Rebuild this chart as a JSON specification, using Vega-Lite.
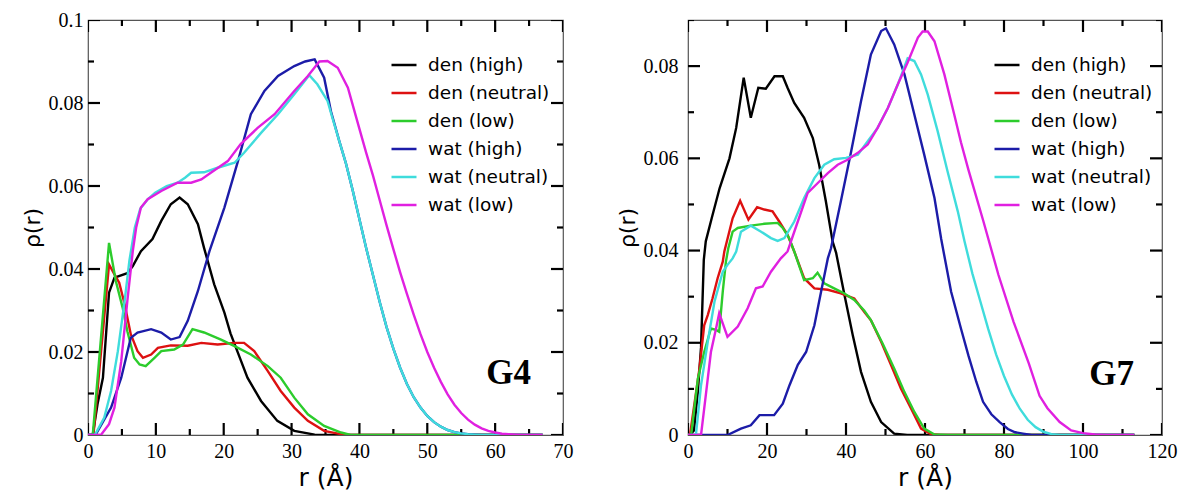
{
  "$schema": "https://vega.github.io/schema/vega-lite/v6.json",
  "background": "white",
  "padding": {"left": 20, "top": 9, "right": 5, "bottom": 2},
  "config": {
    "view": {"stroke": "#555555", "strokeWidth": 1.2},
    "axis": {"grid": false, "ticks": false, "domain": false, "labelColor": "#000000", "titleColor": "#000000"}
  },
  "datasets": {
    "xt4": [
      {"v": 0, "kind": "major"}, {"v": 5, "kind": "minor"}, {"v": 10, "kind": "major"}, {"v": 15, "kind": "minor"},
      {"v": 20, "kind": "major"}, {"v": 25, "kind": "minor"}, {"v": 30, "kind": "major"}, {"v": 35, "kind": "minor"},
      {"v": 40, "kind": "major"}, {"v": 45, "kind": "minor"}, {"v": 50, "kind": "major"}, {"v": 55, "kind": "minor"},
      {"v": 60, "kind": "major"}, {"v": 65, "kind": "minor"}, {"v": 70, "kind": "major"}
    ],
    "yt4": [
      {"v": 0, "kind": "major"}, {"v": 0.01, "kind": "minor"}, {"v": 0.02, "kind": "major"}, {"v": 0.03, "kind": "minor"},
      {"v": 0.04, "kind": "major"}, {"v": 0.05, "kind": "minor"}, {"v": 0.06, "kind": "major"}, {"v": 0.07, "kind": "minor"},
      {"v": 0.08, "kind": "major"}, {"v": 0.09, "kind": "minor"}, {"v": 0.1, "kind": "major"}
    ],
    "xt7": [
      {"v": 0, "kind": "major"}, {"v": 10, "kind": "minor"}, {"v": 20, "kind": "major"}, {"v": 30, "kind": "minor"},
      {"v": 40, "kind": "major"}, {"v": 50, "kind": "minor"}, {"v": 60, "kind": "major"}, {"v": 70, "kind": "minor"},
      {"v": 80, "kind": "major"}, {"v": 90, "kind": "minor"}, {"v": 100, "kind": "major"}, {"v": 110, "kind": "minor"},
      {"v": 120, "kind": "major"}
    ],
    "yt7": [
      {"v": 0, "kind": "major"}, {"v": 0.01, "kind": "minor"}, {"v": 0.02, "kind": "major"}, {"v": 0.03, "kind": "minor"},
      {"v": 0.04, "kind": "major"}, {"v": 0.05, "kind": "minor"}, {"v": 0.06, "kind": "major"}, {"v": 0.07, "kind": "minor"},
      {"v": 0.08, "kind": "major"}, {"v": 0.09, "kind": "minor"}
    ],
    "g4": [
      {"series": "den (high)", "r": 0, "rho": 0},
      {"series": "den (high)", "r": 0.7, "rho": 0},
      {"series": "den (high)", "r": 1.4, "rho": 0.0074},
      {"series": "den (high)", "r": 2.2, "rho": 0.0138},
      {"series": "den (high)", "r": 3.1, "rho": 0.0343},
      {"series": "den (high)", "r": 3.9, "rho": 0.0379},
      {"series": "den (high)", "r": 5.8, "rho": 0.039},
      {"series": "den (high)", "r": 6.6, "rho": 0.0407},
      {"series": "den (high)", "r": 7.8, "rho": 0.0443},
      {"series": "den (high)", "r": 9.5, "rho": 0.0472},
      {"series": "den (high)", "r": 10.8, "rho": 0.0516},
      {"series": "den (high)", "r": 12.2, "rho": 0.0556},
      {"series": "den (high)", "r": 13.5, "rho": 0.0572},
      {"series": "den (high)", "r": 14.7, "rho": 0.0556},
      {"series": "den (high)", "r": 16.2, "rho": 0.0508},
      {"series": "den (high)", "r": 17.1, "rho": 0.0451},
      {"series": "den (high)", "r": 18.6, "rho": 0.0363},
      {"series": "den (high)", "r": 20.1, "rho": 0.0295},
      {"series": "den (high)", "r": 21, "rho": 0.0245},
      {"series": "den (high)", "r": 22, "rho": 0.0202},
      {"series": "den (high)", "r": 23.5, "rho": 0.0138},
      {"series": "den (high)", "r": 25.5, "rho": 0.0082},
      {"series": "den (high)", "r": 27.9, "rho": 0.0034},
      {"series": "den (high)", "r": 30.4, "rho": 0.001},
      {"series": "den (high)", "r": 33.4, "rho": 0.0001},
      {"series": "den (high)", "r": 35, "rho": 0},
      {"series": "den (high)", "r": 67, "rho": 0},
      {"series": "den (neutral)", "r": 0, "rho": 0},
      {"series": "den (neutral)", "r": 0.8, "rho": 0},
      {"series": "den (neutral)", "r": 3.1, "rho": 0.0411},
      {"series": "den (neutral)", "r": 3.9, "rho": 0.0387},
      {"series": "den (neutral)", "r": 4.6, "rho": 0.0367},
      {"series": "den (neutral)", "r": 5.4, "rho": 0.0315},
      {"series": "den (neutral)", "r": 6.3, "rho": 0.0243},
      {"series": "den (neutral)", "r": 7.3, "rho": 0.0202},
      {"series": "den (neutral)", "r": 8.1, "rho": 0.0186},
      {"series": "den (neutral)", "r": 9.3, "rho": 0.0194},
      {"series": "den (neutral)", "r": 10.3, "rho": 0.021},
      {"series": "den (neutral)", "r": 12.2, "rho": 0.0216},
      {"series": "den (neutral)", "r": 14.7, "rho": 0.0215},
      {"series": "den (neutral)", "r": 16.7, "rho": 0.0222},
      {"series": "den (neutral)", "r": 19.1, "rho": 0.0218},
      {"series": "den (neutral)", "r": 21.6, "rho": 0.0222},
      {"series": "den (neutral)", "r": 23, "rho": 0.0222},
      {"series": "den (neutral)", "r": 24.5, "rho": 0.0202},
      {"series": "den (neutral)", "r": 26.5, "rho": 0.0154},
      {"series": "den (neutral)", "r": 28.4, "rho": 0.0106},
      {"series": "den (neutral)", "r": 30.4, "rho": 0.0066},
      {"series": "den (neutral)", "r": 32.4, "rho": 0.0034},
      {"series": "den (neutral)", "r": 34.8, "rho": 0.001},
      {"series": "den (neutral)", "r": 37.6, "rho": 0.0001},
      {"series": "den (neutral)", "r": 40, "rho": 0},
      {"series": "den (neutral)", "r": 67, "rho": 0},
      {"series": "den (low)", "r": 0, "rho": 0},
      {"series": "den (low)", "r": 0.7, "rho": 0},
      {"series": "den (low)", "r": 3.1, "rho": 0.0463},
      {"series": "den (low)", "r": 4.1, "rho": 0.0371},
      {"series": "den (low)", "r": 5.1, "rho": 0.0307},
      {"series": "den (low)", "r": 5.8, "rho": 0.025},
      {"series": "den (low)", "r": 6.8, "rho": 0.0186},
      {"series": "den (low)", "r": 7.6, "rho": 0.017},
      {"series": "den (low)", "r": 8.5, "rho": 0.0166},
      {"series": "den (low)", "r": 9.8, "rho": 0.0186},
      {"series": "den (low)", "r": 10.8, "rho": 0.0202},
      {"series": "den (low)", "r": 12.7, "rho": 0.0206},
      {"series": "den (low)", "r": 14, "rho": 0.0218},
      {"series": "den (low)", "r": 15.4, "rho": 0.0255},
      {"series": "den (low)", "r": 17.1, "rho": 0.0247},
      {"series": "den (low)", "r": 19.6, "rho": 0.023},
      {"series": "den (low)", "r": 21.6, "rho": 0.0214},
      {"series": "den (low)", "r": 24, "rho": 0.0194},
      {"series": "den (low)", "r": 26.5, "rho": 0.0166},
      {"series": "den (low)", "r": 28.4, "rho": 0.0138},
      {"series": "den (low)", "r": 30.4, "rho": 0.009},
      {"series": "den (low)", "r": 32.4, "rho": 0.005},
      {"series": "den (low)", "r": 34.8, "rho": 0.0022},
      {"series": "den (low)", "r": 37.3, "rho": 0.0006},
      {"series": "den (low)", "r": 38.7, "rho": 0},
      {"series": "den (low)", "r": 67, "rho": 0},
      {"series": "wat (high)", "r": 0, "rho": 0},
      {"series": "wat (high)", "r": 1.1, "rho": 0},
      {"series": "wat (high)", "r": 3.4, "rho": 0.0066},
      {"series": "wat (high)", "r": 4.9, "rho": 0.0138},
      {"series": "wat (high)", "r": 6.3, "rho": 0.0234},
      {"series": "wat (high)", "r": 7.3, "rho": 0.0247},
      {"series": "wat (high)", "r": 9.3, "rho": 0.0255},
      {"series": "wat (high)", "r": 10.8, "rho": 0.0247},
      {"series": "wat (high)", "r": 12.2, "rho": 0.023},
      {"series": "wat (high)", "r": 13.5, "rho": 0.0236},
      {"series": "wat (high)", "r": 14.7, "rho": 0.0275},
      {"series": "wat (high)", "r": 16.2, "rho": 0.0347},
      {"series": "wat (high)", "r": 17.9, "rho": 0.0443},
      {"series": "wat (high)", "r": 20.1, "rho": 0.0548},
      {"series": "wat (high)", "r": 22.1, "rho": 0.066},
      {"series": "wat (high)", "r": 24, "rho": 0.0773},
      {"series": "wat (high)", "r": 26, "rho": 0.0829},
      {"series": "wat (high)", "r": 28, "rho": 0.0865},
      {"series": "wat (high)", "r": 30.4, "rho": 0.0889},
      {"series": "wat (high)", "r": 32, "rho": 0.09},
      {"series": "wat (high)", "r": 33.4, "rho": 0.0905},
      {"series": "wat (high)", "r": 34.8, "rho": 0.0861},
      {"series": "wat (high)", "r": 35.8, "rho": 0.078},
      {"series": "wat (high)", "r": 37, "rho": 0.071},
      {"series": "wat (high)", "r": 38, "rho": 0.0655},
      {"series": "wat (high)", "r": 39, "rho": 0.059},
      {"series": "wat (high)", "r": 40, "rho": 0.052},
      {"series": "wat (high)", "r": 41, "rho": 0.045},
      {"series": "wat (high)", "r": 42, "rho": 0.0385},
      {"series": "wat (high)", "r": 43, "rho": 0.032},
      {"series": "wat (high)", "r": 44, "rho": 0.026},
      {"series": "wat (high)", "r": 45, "rho": 0.0208},
      {"series": "wat (high)", "r": 46, "rho": 0.0162},
      {"series": "wat (high)", "r": 47, "rho": 0.0123},
      {"series": "wat (high)", "r": 48, "rho": 0.0091},
      {"series": "wat (high)", "r": 49, "rho": 0.0066},
      {"series": "wat (high)", "r": 50, "rho": 0.0046},
      {"series": "wat (high)", "r": 51, "rho": 0.0031},
      {"series": "wat (high)", "r": 52, "rho": 0.002},
      {"series": "wat (high)", "r": 53, "rho": 0.0012},
      {"series": "wat (high)", "r": 54, "rho": 0.0007},
      {"series": "wat (high)", "r": 55, "rho": 0.0004},
      {"series": "wat (high)", "r": 56, "rho": 0.0002},
      {"series": "wat (high)", "r": 57, "rho": 0.0001},
      {"series": "wat (high)", "r": 58, "rho": 0},
      {"series": "wat (high)", "r": 67, "rho": 0},
      {"series": "wat (neutral)", "r": 0, "rho": 0},
      {"series": "wat (neutral)", "r": 1, "rho": 0},
      {"series": "wat (neutral)", "r": 2.4, "rho": 0.0042},
      {"series": "wat (neutral)", "r": 3.4, "rho": 0.0106},
      {"series": "wat (neutral)", "r": 4.4, "rho": 0.0202},
      {"series": "wat (neutral)", "r": 5.4, "rho": 0.0323},
      {"series": "wat (neutral)", "r": 6.1, "rho": 0.042},
      {"series": "wat (neutral)", "r": 6.9, "rho": 0.05},
      {"series": "wat (neutral)", "r": 7.7, "rho": 0.0545},
      {"series": "wat (neutral)", "r": 8.8, "rho": 0.0568},
      {"series": "wat (neutral)", "r": 9.9, "rho": 0.0584},
      {"series": "wat (neutral)", "r": 11.6, "rho": 0.06},
      {"series": "wat (neutral)", "r": 13.2, "rho": 0.0608},
      {"series": "wat (neutral)", "r": 14.3, "rho": 0.062},
      {"series": "wat (neutral)", "r": 15.2, "rho": 0.0632},
      {"series": "wat (neutral)", "r": 17.1, "rho": 0.0633},
      {"series": "wat (neutral)", "r": 19.1, "rho": 0.0644},
      {"series": "wat (neutral)", "r": 21.6, "rho": 0.0656},
      {"series": "wat (neutral)", "r": 23, "rho": 0.068},
      {"series": "wat (neutral)", "r": 25.5, "rho": 0.0728},
      {"series": "wat (neutral)", "r": 28, "rho": 0.0773},
      {"series": "wat (neutral)", "r": 30.4, "rho": 0.0821},
      {"series": "wat (neutral)", "r": 32.6, "rho": 0.0867},
      {"series": "wat (neutral)", "r": 33.8, "rho": 0.0845},
      {"series": "wat (neutral)", "r": 35.3, "rho": 0.0805},
      {"series": "wat (neutral)", "r": 36, "rho": 0.0765},
      {"series": "wat (neutral)", "r": 37, "rho": 0.071},
      {"series": "wat (neutral)", "r": 38, "rho": 0.0655},
      {"series": "wat (neutral)", "r": 39, "rho": 0.059},
      {"series": "wat (neutral)", "r": 40, "rho": 0.052},
      {"series": "wat (neutral)", "r": 41, "rho": 0.045},
      {"series": "wat (neutral)", "r": 42, "rho": 0.0385},
      {"series": "wat (neutral)", "r": 43, "rho": 0.032},
      {"series": "wat (neutral)", "r": 44, "rho": 0.026},
      {"series": "wat (neutral)", "r": 45, "rho": 0.0208},
      {"series": "wat (neutral)", "r": 46, "rho": 0.0162},
      {"series": "wat (neutral)", "r": 47, "rho": 0.0123},
      {"series": "wat (neutral)", "r": 48, "rho": 0.0091},
      {"series": "wat (neutral)", "r": 49, "rho": 0.0066},
      {"series": "wat (neutral)", "r": 50, "rho": 0.0046},
      {"series": "wat (neutral)", "r": 51, "rho": 0.0031},
      {"series": "wat (neutral)", "r": 52, "rho": 0.002},
      {"series": "wat (neutral)", "r": 53, "rho": 0.0012},
      {"series": "wat (neutral)", "r": 54, "rho": 0.0007},
      {"series": "wat (neutral)", "r": 55, "rho": 0.0004},
      {"series": "wat (neutral)", "r": 56, "rho": 0.0002},
      {"series": "wat (neutral)", "r": 57, "rho": 0.0001},
      {"series": "wat (neutral)", "r": 58, "rho": 0},
      {"series": "wat (neutral)", "r": 67, "rho": 0},
      {"series": "wat (low)", "r": 0, "rho": 0},
      {"series": "wat (low)", "r": 1.9, "rho": 0},
      {"series": "wat (low)", "r": 3.1, "rho": 0.0026},
      {"series": "wat (low)", "r": 3.9, "rho": 0.0066},
      {"series": "wat (low)", "r": 4.9, "rho": 0.0178},
      {"series": "wat (low)", "r": 5.8, "rho": 0.0323},
      {"series": "wat (low)", "r": 6.6, "rho": 0.0443},
      {"series": "wat (low)", "r": 7.1, "rho": 0.05},
      {"series": "wat (low)", "r": 7.8, "rho": 0.0548},
      {"series": "wat (low)", "r": 8.8, "rho": 0.0568},
      {"series": "wat (low)", "r": 10.8, "rho": 0.0588},
      {"series": "wat (low)", "r": 13.2, "rho": 0.0608},
      {"series": "wat (low)", "r": 15.2, "rho": 0.0608},
      {"series": "wat (low)", "r": 16.7, "rho": 0.0616},
      {"series": "wat (low)", "r": 18.1, "rho": 0.0632},
      {"series": "wat (low)", "r": 20.6, "rho": 0.066},
      {"series": "wat (low)", "r": 22.5, "rho": 0.0701},
      {"series": "wat (low)", "r": 25, "rho": 0.074},
      {"series": "wat (low)", "r": 27.5, "rho": 0.0773},
      {"series": "wat (low)", "r": 30.4, "rho": 0.0829},
      {"series": "wat (low)", "r": 32.4, "rho": 0.0865},
      {"series": "wat (low)", "r": 34.1, "rho": 0.09},
      {"series": "wat (low)", "r": 35.3, "rho": 0.0901},
      {"series": "wat (low)", "r": 36.8, "rho": 0.0885},
      {"series": "wat (low)", "r": 38.3, "rho": 0.0837},
      {"series": "wat (low)", "r": 39.7, "rho": 0.0755},
      {"series": "wat (low)", "r": 41, "rho": 0.068},
      {"series": "wat (low)", "r": 42, "rho": 0.0625},
      {"series": "wat (low)", "r": 43, "rho": 0.0565},
      {"series": "wat (low)", "r": 44, "rho": 0.0505},
      {"series": "wat (low)", "r": 45, "rho": 0.0448},
      {"series": "wat (low)", "r": 46, "rho": 0.0392},
      {"series": "wat (low)", "r": 47, "rho": 0.034},
      {"series": "wat (low)", "r": 48, "rho": 0.029},
      {"series": "wat (low)", "r": 49, "rho": 0.0243},
      {"series": "wat (low)", "r": 50, "rho": 0.02},
      {"series": "wat (low)", "r": 51, "rho": 0.0162},
      {"series": "wat (low)", "r": 52, "rho": 0.0128},
      {"series": "wat (low)", "r": 53, "rho": 0.0098},
      {"series": "wat (low)", "r": 54, "rho": 0.0073},
      {"series": "wat (low)", "r": 55, "rho": 0.0053},
      {"series": "wat (low)", "r": 56, "rho": 0.0037},
      {"series": "wat (low)", "r": 57, "rho": 0.0025},
      {"series": "wat (low)", "r": 58, "rho": 0.0016},
      {"series": "wat (low)", "r": 59, "rho": 0.001},
      {"series": "wat (low)", "r": 60, "rho": 0.0006},
      {"series": "wat (low)", "r": 61, "rho": 0.0003},
      {"series": "wat (low)", "r": 62, "rho": 0.0002},
      {"series": "wat (low)", "r": 63, "rho": 0.0001},
      {"series": "wat (low)", "r": 64, "rho": 0},
      {"series": "wat (low)", "r": 67, "rho": 0}
    ],
    "g7": [
      {"series": "den (high)", "r": 0, "rho": 0},
      {"series": "den (high)", "r": 0.5, "rho": 0},
      {"series": "den (high)", "r": 1.5, "rho": 0.001},
      {"series": "den (high)", "r": 2.5, "rho": 0.0095},
      {"series": "den (high)", "r": 3.3, "rho": 0.019},
      {"series": "den (high)", "r": 4, "rho": 0.038},
      {"series": "den (high)", "r": 4.5, "rho": 0.042},
      {"series": "den (high)", "r": 6, "rho": 0.047},
      {"series": "den (high)", "r": 8, "rho": 0.0535},
      {"series": "den (high)", "r": 10.5, "rho": 0.06},
      {"series": "den (high)", "r": 12.2, "rho": 0.0666},
      {"series": "den (high)", "r": 14.1, "rho": 0.0775},
      {"series": "den (high)", "r": 15.9, "rho": 0.0688},
      {"series": "den (high)", "r": 17.8, "rho": 0.0753},
      {"series": "den (high)", "r": 19.7, "rho": 0.0751},
      {"series": "den (high)", "r": 21.9, "rho": 0.0778},
      {"series": "den (high)", "r": 24, "rho": 0.0778},
      {"series": "den (high)", "r": 25.2, "rho": 0.0753},
      {"series": "den (high)", "r": 26.9, "rho": 0.072},
      {"series": "den (high)", "r": 29.4, "rho": 0.0688},
      {"series": "den (high)", "r": 31.6, "rho": 0.0644},
      {"series": "den (high)", "r": 33.2, "rho": 0.0586},
      {"series": "den (high)", "r": 34.9, "rho": 0.0507},
      {"series": "den (high)", "r": 36.6, "rho": 0.042},
      {"series": "den (high)", "r": 37.5, "rho": 0.0395},
      {"series": "den (high)", "r": 39.6, "rho": 0.0304},
      {"series": "den (high)", "r": 41.7, "rho": 0.0217},
      {"series": "den (high)", "r": 43.8, "rho": 0.0137},
      {"series": "den (high)", "r": 46.3, "rho": 0.0072},
      {"series": "den (high)", "r": 48.9, "rho": 0.0028},
      {"series": "den (high)", "r": 52.2, "rho": 0.0003},
      {"series": "den (high)", "r": 55.5, "rho": 0},
      {"series": "den (high)", "r": 113, "rho": 0},
      {"series": "den (neutral)", "r": 0, "rho": 0},
      {"series": "den (neutral)", "r": 0.5, "rho": 0},
      {"series": "den (neutral)", "r": 2.9, "rho": 0.0144},
      {"series": "den (neutral)", "r": 4.1, "rho": 0.0238},
      {"series": "den (neutral)", "r": 5, "rho": 0.026},
      {"series": "den (neutral)", "r": 6.2, "rho": 0.0296},
      {"series": "den (neutral)", "r": 7.5, "rho": 0.034},
      {"series": "den (neutral)", "r": 8.8, "rho": 0.0376},
      {"series": "den (neutral)", "r": 9.2, "rho": 0.0398},
      {"series": "den (neutral)", "r": 11.3, "rho": 0.047},
      {"series": "den (neutral)", "r": 13.2, "rho": 0.0508},
      {"series": "den (neutral)", "r": 15.3, "rho": 0.0467},
      {"series": "den (neutral)", "r": 17.5, "rho": 0.0494},
      {"series": "den (neutral)", "r": 19.3, "rho": 0.0489},
      {"series": "den (neutral)", "r": 21.4, "rho": 0.0485},
      {"series": "den (neutral)", "r": 23.1, "rho": 0.0463},
      {"series": "den (neutral)", "r": 25.2, "rho": 0.0434},
      {"series": "den (neutral)", "r": 26.9, "rho": 0.0398},
      {"series": "den (neutral)", "r": 29.4, "rho": 0.034},
      {"series": "den (neutral)", "r": 32, "rho": 0.0318},
      {"series": "den (neutral)", "r": 35.4, "rho": 0.0315},
      {"series": "den (neutral)", "r": 38.7, "rho": 0.0307},
      {"series": "den (neutral)", "r": 42.1, "rho": 0.0296},
      {"series": "den (neutral)", "r": 44.6, "rho": 0.0267},
      {"series": "den (neutral)", "r": 46.3, "rho": 0.0249},
      {"series": "den (neutral)", "r": 48.9, "rho": 0.0202},
      {"series": "den (neutral)", "r": 51.4, "rho": 0.0152},
      {"series": "den (neutral)", "r": 53.9, "rho": 0.0101},
      {"series": "den (neutral)", "r": 56.5, "rho": 0.0057},
      {"series": "den (neutral)", "r": 59, "rho": 0.0014},
      {"series": "den (neutral)", "r": 61.5, "rho": 0.0002},
      {"series": "den (neutral)", "r": 64, "rho": 0},
      {"series": "den (neutral)", "r": 113, "rho": 0},
      {"series": "den (low)", "r": 0, "rho": 0},
      {"series": "den (low)", "r": 0.8, "rho": 0},
      {"series": "den (low)", "r": 2.5, "rho": 0.0122},
      {"series": "den (low)", "r": 4.1, "rho": 0.018},
      {"series": "den (low)", "r": 5.8, "rho": 0.0231},
      {"series": "den (low)", "r": 7.1, "rho": 0.0228},
      {"series": "den (low)", "r": 7.9, "rho": 0.0224},
      {"series": "den (low)", "r": 8.8, "rho": 0.0311},
      {"series": "den (low)", "r": 9.6, "rho": 0.0376},
      {"series": "den (low)", "r": 10.2, "rho": 0.0405},
      {"series": "den (low)", "r": 11.3, "rho": 0.0441},
      {"series": "den (low)", "r": 12.6, "rho": 0.0449},
      {"series": "den (low)", "r": 15.9, "rho": 0.0454},
      {"series": "den (low)", "r": 19.3, "rho": 0.0458},
      {"series": "den (low)", "r": 22.7, "rho": 0.046},
      {"series": "den (low)", "r": 24, "rho": 0.0449},
      {"series": "den (low)", "r": 25.6, "rho": 0.0427},
      {"series": "den (low)", "r": 26.9, "rho": 0.0398},
      {"series": "den (low)", "r": 29.4, "rho": 0.0336},
      {"series": "den (low)", "r": 31.6, "rho": 0.034},
      {"series": "den (low)", "r": 32.8, "rho": 0.0352},
      {"series": "den (low)", "r": 34.5, "rho": 0.0329},
      {"series": "den (low)", "r": 37, "rho": 0.0318},
      {"series": "den (low)", "r": 39.6, "rho": 0.0307},
      {"series": "den (low)", "r": 42.1, "rho": 0.0293},
      {"series": "den (low)", "r": 44.6, "rho": 0.027},
      {"series": "den (low)", "r": 46.3, "rho": 0.0249},
      {"series": "den (low)", "r": 49.3, "rho": 0.0198},
      {"series": "den (low)", "r": 52.2, "rho": 0.0144},
      {"series": "den (low)", "r": 54.8, "rho": 0.0093},
      {"series": "den (low)", "r": 57.3, "rho": 0.005},
      {"series": "den (low)", "r": 59.8, "rho": 0.0014},
      {"series": "den (low)", "r": 62.4, "rho": 0.0001},
      {"series": "den (low)", "r": 65.8, "rho": 0},
      {"series": "den (low)", "r": 113, "rho": 0},
      {"series": "wat (high)", "r": 0, "rho": 0},
      {"series": "wat (high)", "r": 10, "rho": 0},
      {"series": "wat (high)", "r": 13.4, "rho": 0.0014},
      {"series": "wat (high)", "r": 15.9, "rho": 0.0021},
      {"series": "wat (high)", "r": 18.1, "rho": 0.0043},
      {"series": "wat (high)", "r": 21.8, "rho": 0.0043},
      {"series": "wat (high)", "r": 24, "rho": 0.0068},
      {"series": "wat (high)", "r": 25.7, "rho": 0.0108},
      {"series": "wat (high)", "r": 27.8, "rho": 0.0152},
      {"series": "wat (high)", "r": 29.9, "rho": 0.018},
      {"series": "wat (high)", "r": 32, "rho": 0.0238},
      {"series": "wat (high)", "r": 33.7, "rho": 0.0311},
      {"series": "wat (high)", "r": 35.4, "rho": 0.0383},
      {"series": "wat (high)", "r": 36.2, "rho": 0.0405},
      {"series": "wat (high)", "r": 38.7, "rho": 0.0507},
      {"series": "wat (high)", "r": 41.3, "rho": 0.0615},
      {"series": "wat (high)", "r": 43.8, "rho": 0.0724},
      {"series": "wat (high)", "r": 46.3, "rho": 0.0825},
      {"series": "wat (high)", "r": 48.9, "rho": 0.0876},
      {"series": "wat (high)", "r": 50.1, "rho": 0.0882},
      {"series": "wat (high)", "r": 52.2, "rho": 0.0847},
      {"series": "wat (high)", "r": 54.8, "rho": 0.0782},
      {"series": "wat (high)", "r": 57.3, "rho": 0.0695},
      {"series": "wat (high)", "r": 59.8, "rho": 0.0608},
      {"series": "wat (high)", "r": 62.4, "rho": 0.0514},
      {"series": "wat (high)", "r": 64.1, "rho": 0.0425},
      {"series": "wat (high)", "r": 66.6, "rho": 0.0311},
      {"series": "wat (high)", "r": 69.1, "rho": 0.0231},
      {"series": "wat (high)", "r": 71, "rho": 0.0172},
      {"series": "wat (high)", "r": 73, "rho": 0.0115},
      {"series": "wat (high)", "r": 74.7, "rho": 0.0072},
      {"series": "wat (high)", "r": 76.8, "rho": 0.0045},
      {"series": "wat (high)", "r": 78.9, "rho": 0.0028},
      {"series": "wat (high)", "r": 81, "rho": 0.0013},
      {"series": "wat (high)", "r": 82.8, "rho": 0.0006},
      {"series": "wat (high)", "r": 84.8, "rho": 0.0003},
      {"series": "wat (high)", "r": 87, "rho": 0},
      {"series": "wat (high)", "r": 113, "rho": 0},
      {"series": "wat (neutral)", "r": 0, "rho": 0},
      {"series": "wat (neutral)", "r": 2, "rho": 0},
      {"series": "wat (neutral)", "r": 3.3, "rho": 0.0108},
      {"series": "wat (neutral)", "r": 5, "rho": 0.0202},
      {"series": "wat (neutral)", "r": 6.7, "rho": 0.0289},
      {"series": "wat (neutral)", "r": 8.8, "rho": 0.0354},
      {"series": "wat (neutral)", "r": 10, "rho": 0.0369},
      {"series": "wat (neutral)", "r": 11.3, "rho": 0.0383},
      {"series": "wat (neutral)", "r": 12.2, "rho": 0.0398},
      {"series": "wat (neutral)", "r": 13.4, "rho": 0.0441},
      {"series": "wat (neutral)", "r": 15.9, "rho": 0.0454},
      {"series": "wat (neutral)", "r": 18.5, "rho": 0.0441},
      {"series": "wat (neutral)", "r": 21, "rho": 0.0427},
      {"series": "wat (neutral)", "r": 22.7, "rho": 0.0421},
      {"series": "wat (neutral)", "r": 24.4, "rho": 0.0427},
      {"series": "wat (neutral)", "r": 26.9, "rho": 0.0463},
      {"series": "wat (neutral)", "r": 29.4, "rho": 0.0514},
      {"series": "wat (neutral)", "r": 32, "rho": 0.0557},
      {"series": "wat (neutral)", "r": 34.5, "rho": 0.0586},
      {"series": "wat (neutral)", "r": 37, "rho": 0.0598},
      {"series": "wat (neutral)", "r": 40, "rho": 0.0601},
      {"series": "wat (neutral)", "r": 43, "rho": 0.0608},
      {"series": "wat (neutral)", "r": 45.5, "rho": 0.0637},
      {"series": "wat (neutral)", "r": 48, "rho": 0.0666},
      {"series": "wat (neutral)", "r": 50.6, "rho": 0.0709},
      {"series": "wat (neutral)", "r": 53.1, "rho": 0.076},
      {"series": "wat (neutral)", "r": 55.6, "rho": 0.0817},
      {"series": "wat (neutral)", "r": 57.3, "rho": 0.0811},
      {"series": "wat (neutral)", "r": 59, "rho": 0.0782},
      {"series": "wat (neutral)", "r": 60.7, "rho": 0.0738},
      {"series": "wat (neutral)", "r": 63.2, "rho": 0.0659},
      {"series": "wat (neutral)", "r": 65.7, "rho": 0.0572},
      {"series": "wat (neutral)", "r": 68.3, "rho": 0.0485},
      {"series": "wat (neutral)", "r": 70, "rho": 0.042},
      {"series": "wat (neutral)", "r": 72, "rho": 0.035},
      {"series": "wat (neutral)", "r": 74, "rho": 0.029},
      {"series": "wat (neutral)", "r": 76, "rho": 0.023},
      {"series": "wat (neutral)", "r": 78, "rho": 0.0175},
      {"series": "wat (neutral)", "r": 80, "rho": 0.0128},
      {"series": "wat (neutral)", "r": 82, "rho": 0.0088},
      {"series": "wat (neutral)", "r": 84, "rho": 0.0057},
      {"series": "wat (neutral)", "r": 86, "rho": 0.0033},
      {"series": "wat (neutral)", "r": 88, "rho": 0.0017},
      {"series": "wat (neutral)", "r": 90, "rho": 0.0007},
      {"series": "wat (neutral)", "r": 92, "rho": 0.0002},
      {"series": "wat (neutral)", "r": 94, "rho": 0},
      {"series": "wat (neutral)", "r": 113, "rho": 0},
      {"series": "wat (low)", "r": 0, "rho": 0},
      {"series": "wat (low)", "r": 3.3, "rho": 0},
      {"series": "wat (low)", "r": 4.6, "rho": 0.0093},
      {"series": "wat (low)", "r": 5.8, "rho": 0.018},
      {"series": "wat (low)", "r": 7.1, "rho": 0.0231},
      {"series": "wat (low)", "r": 7.9, "rho": 0.0264},
      {"series": "wat (low)", "r": 10, "rho": 0.0213},
      {"series": "wat (low)", "r": 12.6, "rho": 0.0235},
      {"series": "wat (low)", "r": 15.1, "rho": 0.0275},
      {"series": "wat (low)", "r": 17.2, "rho": 0.0318},
      {"series": "wat (low)", "r": 18.9, "rho": 0.0322},
      {"series": "wat (low)", "r": 21, "rho": 0.0354},
      {"series": "wat (low)", "r": 23.5, "rho": 0.0383},
      {"series": "wat (low)", "r": 25.2, "rho": 0.0398},
      {"series": "wat (low)", "r": 27.8, "rho": 0.0463},
      {"series": "wat (low)", "r": 30.3, "rho": 0.0525},
      {"series": "wat (low)", "r": 32.8, "rho": 0.0546},
      {"series": "wat (low)", "r": 35.4, "rho": 0.0568},
      {"series": "wat (low)", "r": 37.9, "rho": 0.0586},
      {"series": "wat (low)", "r": 40.4, "rho": 0.0597},
      {"series": "wat (low)", "r": 43, "rho": 0.0612},
      {"series": "wat (low)", "r": 45.5, "rho": 0.063},
      {"series": "wat (low)", "r": 48, "rho": 0.0666},
      {"series": "wat (low)", "r": 50.6, "rho": 0.0709},
      {"series": "wat (low)", "r": 53.1, "rho": 0.076},
      {"series": "wat (low)", "r": 55.6, "rho": 0.0808},
      {"series": "wat (low)", "r": 58.2, "rho": 0.0862},
      {"series": "wat (low)", "r": 59.4, "rho": 0.0875},
      {"series": "wat (low)", "r": 60.7, "rho": 0.0875},
      {"series": "wat (low)", "r": 62.4, "rho": 0.0854},
      {"series": "wat (low)", "r": 64.9, "rho": 0.0782},
      {"series": "wat (low)", "r": 67.4, "rho": 0.0695},
      {"series": "wat (low)", "r": 69.1, "rho": 0.0635},
      {"series": "wat (low)", "r": 71, "rho": 0.0575},
      {"series": "wat (low)", "r": 74.8, "rho": 0.0463},
      {"series": "wat (low)", "r": 78.6, "rho": 0.0347},
      {"series": "wat (low)", "r": 82.4, "rho": 0.0246},
      {"series": "wat (low)", "r": 86.3, "rho": 0.0155},
      {"series": "wat (low)", "r": 89, "rho": 0.0085},
      {"series": "wat (low)", "r": 91, "rho": 0.0058},
      {"series": "wat (low)", "r": 94.1, "rho": 0.0028},
      {"series": "wat (low)", "r": 97, "rho": 0.001},
      {"series": "wat (low)", "r": 100, "rho": 0.0004},
      {"series": "wat (low)", "r": 103, "rho": 0.0001},
      {"series": "wat (low)", "r": 106, "rho": 0},
      {"series": "wat (low)", "r": 113, "rho": 0}
    ]
  },
  "spacing": 125,
  "bounds": "flush",
  "resolve": {"scale": {"x": "independent", "y": "independent", "color": "independent", "size": "independent"}, "legend": {"color": "independent"}},
  "hconcat": [
    {
      "width": 475,
      "height": 415,
      "layer": [
        {
          "data": {"name": "xt4"},
          "mark": {"type": "tick", "orient": "vertical", "clip": true, "thickness": 2.2, "color": "#000000", "opacity": 1},
          "encoding": {
            "x": {"field": "v", "type": "quantitative", "scale": {"domain": [0, 70], "nice": false, "zero": false},
              "axis": {
                "values": [0, 10, 20, 30, 40, 50, 60, 70],
                "title": "r (Å)", "titleFont": "DejaVu Sans", "titleFontSize": 25, "titleFontWeight": "normal", "titlePadding": 4,
                "labelFont": "Liberation Serif", "labelFontSize": 20, "labelFlush": false, "labelOverlap": false, "labelPadding": 6
              }},
            "y": {"datum": 0, "type": "quantitative", "scale": {"domain": [0, 0.1], "nice": false, "zero": false},
              "axis": {
                "values": [0, 0.02, 0.04, 0.06, 0.08, 0.1],
                "title": "ρ(r)", "titleFont": "DejaVu Sans", "titleFontSize": 22, "titleFontWeight": "normal", "titlePadding": 4,
                "labelFont": "Liberation Serif", "labelFontSize": 20, "labelFlush": false, "labelOverlap": false, "labelPadding": 5,
                "labelExpr": "format(datum.value, '~g')"
              }},
            "size": {"field": "kind", "type": "ordinal", "scale": {"domain": ["major", "minor"], "range": [24, 12]}, "legend": null}
          }
        },
        {
          "data": {"name": "xt4"},
          "mark": {"type": "tick", "orient": "vertical", "clip": true, "thickness": 2.2, "color": "#000000", "opacity": 1},
          "encoding": {
            "x": {"field": "v", "type": "quantitative"},
            "y": {"datum": 0.1, "type": "quantitative"},
            "size": {"field": "kind", "type": "ordinal", "scale": {"domain": ["major", "minor"], "range": [24, 12]}, "legend": null}
          }
        },
        {
          "data": {"name": "yt4"},
          "mark": {"type": "tick", "orient": "horizontal", "clip": true, "thickness": 2.2, "color": "#000000", "opacity": 1},
          "encoding": {
            "y": {"field": "v", "type": "quantitative"},
            "x": {"datum": 0, "type": "quantitative"},
            "size": {"field": "kind", "type": "ordinal", "scale": {"domain": ["major", "minor"], "range": [24, 12]}, "legend": null}
          }
        },
        {
          "data": {"name": "yt4"},
          "mark": {"type": "tick", "orient": "horizontal", "clip": true, "thickness": 2.2, "color": "#000000", "opacity": 1},
          "encoding": {
            "y": {"field": "v", "type": "quantitative"},
            "x": {"datum": 70, "type": "quantitative"},
            "size": {"field": "kind", "type": "ordinal", "scale": {"domain": ["major", "minor"], "range": [24, 12]}, "legend": null}
          }
        },
        {
          "data": {"name": "g4"},
          "mark": {"type": "line", "strokeWidth": 2.4, "clip": true},
          "encoding": {
            "x": {"field": "r", "type": "quantitative"},
            "y": {"field": "rho", "type": "quantitative"},
            "color": {
              "field": "series", "type": "nominal",
              "scale": {"domain": ["den (high)", "den (neutral)", "den (low)", "wat (high)", "wat (neutral)", "wat (low)"], "range": ["#000000", "#dd1111", "#2ccc2c", "#1c1ca8", "#3fdcdc", "#e020e0"]},
              "legend": {"orient": "none", "legendX": 302, "legendY": 31, "title": null, "symbolType": "stroke", "symbolSize": 625, "symbolStrokeWidth": 2.5, "labelFont": "DejaVu Sans", "labelFontSize": 18.5, "labelColor": "#000000", "labelOffset": 10, "rowPadding": 4, "padding": 0, "labelLimit": 300}
            }
          }
        },
        {
          "data": {"values": [{"label": "G4", "r": 65.3, "rho": 0.0123}]},
          "mark": {"type": "text", "align": "right", "baseline": "alphabetic", "font": "Liberation Serif", "fontWeight": "bold", "fontSize": 35, "color": "#000000"},
          "encoding": {
            "x": {"field": "r", "type": "quantitative"},
            "y": {"field": "rho", "type": "quantitative"},
            "text": {"field": "label"}
          }
        }
      ]
    },
    {
      "width": 474,
      "height": 415,
      "layer": [
        {
          "data": {"name": "xt7"},
          "mark": {"type": "tick", "orient": "vertical", "clip": true, "thickness": 2.2, "color": "#000000", "opacity": 1},
          "encoding": {
            "x": {"field": "v", "type": "quantitative", "scale": {"domain": [0, 120], "nice": false, "zero": false},
              "axis": {
                "values": [0, 20, 40, 60, 80, 100, 120],
                "title": "r (Å)", "titleFont": "DejaVu Sans", "titleFontSize": 25, "titleFontWeight": "normal", "titlePadding": 4,
                "labelFont": "Liberation Serif", "labelFontSize": 20, "labelFlush": false, "labelOverlap": false, "labelPadding": 6
              }},
            "y": {"datum": 0, "type": "quantitative", "scale": {"domain": [0, 0.09], "nice": false, "zero": false},
              "axis": {
                "values": [0, 0.02, 0.04, 0.06, 0.08],
                "title": "ρ(r)", "titleFont": "DejaVu Sans", "titleFontSize": 22, "titleFontWeight": "normal", "titlePadding": 4,
                "labelFont": "Liberation Serif", "labelFontSize": 20, "labelFlush": false, "labelOverlap": false, "labelPadding": 10,
                "labelExpr": "format(datum.value, '~g')"
              }},
            "size": {"field": "kind", "type": "ordinal", "scale": {"domain": ["major", "minor"], "range": [24, 12]}, "legend": null}
          }
        },
        {
          "data": {"name": "xt7"},
          "mark": {"type": "tick", "orient": "vertical", "clip": true, "thickness": 2.2, "color": "#000000", "opacity": 1},
          "encoding": {
            "x": {"field": "v", "type": "quantitative"},
            "y": {"datum": 0.09, "type": "quantitative"},
            "size": {"field": "kind", "type": "ordinal", "scale": {"domain": ["major", "minor"], "range": [24, 12]}, "legend": null}
          }
        },
        {
          "data": {"name": "yt7"},
          "mark": {"type": "tick", "orient": "horizontal", "clip": true, "thickness": 2.2, "color": "#000000", "opacity": 1},
          "encoding": {
            "y": {"field": "v", "type": "quantitative"},
            "x": {"datum": 0, "type": "quantitative"},
            "size": {"field": "kind", "type": "ordinal", "scale": {"domain": ["major", "minor"], "range": [24, 12]}, "legend": null}
          }
        },
        {
          "data": {"name": "yt7"},
          "mark": {"type": "tick", "orient": "horizontal", "clip": true, "thickness": 2.2, "color": "#000000", "opacity": 1},
          "encoding": {
            "y": {"field": "v", "type": "quantitative"},
            "x": {"datum": 120, "type": "quantitative"},
            "size": {"field": "kind", "type": "ordinal", "scale": {"domain": ["major", "minor"], "range": [24, 12]}, "legend": null}
          }
        },
        {
          "data": {"name": "g7"},
          "mark": {"type": "line", "strokeWidth": 2.4, "clip": true},
          "encoding": {
            "x": {"field": "r", "type": "quantitative"},
            "y": {"field": "rho", "type": "quantitative"},
            "color": {
              "field": "series", "type": "nominal",
              "scale": {"domain": ["den (high)", "den (neutral)", "den (low)", "wat (high)", "wat (neutral)", "wat (low)"], "range": ["#000000", "#dd1111", "#2ccc2c", "#1c1ca8", "#3fdcdc", "#e020e0"]},
              "legend": {"orient": "none", "legendX": 305, "legendY": 31, "title": null, "symbolType": "stroke", "symbolSize": 625, "symbolStrokeWidth": 2.5, "labelFont": "DejaVu Sans", "labelFontSize": 18.5, "labelColor": "#000000", "labelOffset": 10, "rowPadding": 4, "padding": 0, "labelLimit": 300}
            }
          }
        },
        {
          "data": {"values": [{"label": "G7", "r": 112.9, "rho": 0.0109}]},
          "mark": {"type": "text", "align": "right", "baseline": "alphabetic", "font": "Liberation Serif", "fontWeight": "bold", "fontSize": 35, "color": "#000000"},
          "encoding": {
            "x": {"field": "r", "type": "quantitative"},
            "y": {"field": "rho", "type": "quantitative"},
            "text": {"field": "label"}
          }
        }
      ]
    }
  ]
}
